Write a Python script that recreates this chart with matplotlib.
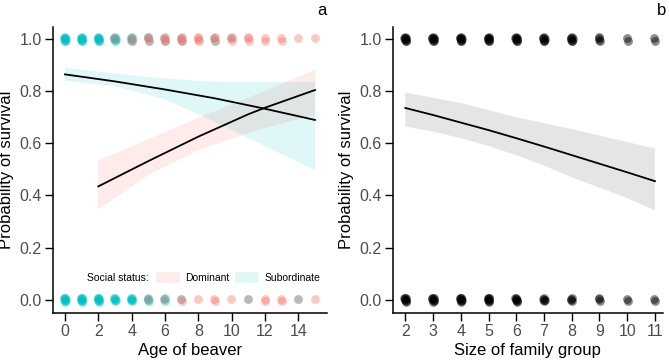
import matplotlib.pyplot as plt
import numpy as np
from matplotlib.patches import Patch

plt.rcParams["font.family"] = ["Liberation Sans", "DejaVu Sans"]

RED = "#F8766D"
CYAN = "#00BFC4"
TICK_GREY = "#4D4D4D"

# panel a: age of beaver, points per age (survived = 1, died = 0)
ages = np.arange(16)
sub_alive = [8, 8, 8, 6, 5, 3, 2, 2, 0, 2, 1, 0, 0, 0, 0, 0]
dom_alive = [0, 0, 0, 1, 2, 3, 4, 4, 4, 3, 3, 3, 2, 2, 1, 1]
sub_dead = [8, 8, 8, 6, 6, 4, 3, 1, 0, 0, 0, 1, 0, 0, 1, 0]
dom_dead = [0, 0, 0, 0, 0, 1, 1, 2, 1, 2, 1, 1, 2, 2, 1, 1]

# fitted curves, panel a
sub_x = [0, 3, 6, 9, 12, 15]
sub_fit = [0.865, 0.838, 0.807, 0.773, 0.733, 0.690]
sub_lo = [0.841, 0.820, 0.770, 0.683, 0.590, 0.498]
sub_hi = [0.890, 0.868, 0.848, 0.836, 0.835, 0.835]

dom_x = [2, 5, 8, 11, 12, 15]
dom_fit = [0.435, 0.532, 0.626, 0.712, 0.737, 0.805]
dom_lo = [0.348, 0.480, 0.575, 0.640, 0.660, 0.710]
dom_hi = [0.533, 0.615, 0.697, 0.775, 0.800, 0.881]

# panel b: size of family group
sizes = np.arange(2, 12)
n_alive = [8, 8, 8, 8, 8, 7, 7, 4, 2, 2]
n_dead = [8, 8, 8, 8, 7, 5, 4, 3, 2, 2]
size_fit = [0.736, 0.709, 0.680, 0.651, 0.620, 0.588, 0.555, 0.522, 0.489, 0.455]
size_lo = [0.665, 0.645, 0.620, 0.590, 0.555, 0.515, 0.470, 0.430, 0.390, 0.342]
size_hi = [0.796, 0.775, 0.755, 0.728, 0.700, 0.678, 0.655, 0.630, 0.605, 0.580]

# fixed jitter pattern for overlapping points
JIT_X = np.array([-0.6, 0.5, 0.0, -0.3, 0.8, -0.9, 0.3, 0.6])
JIT_Y = np.array([0.4, -0.8, 1.0, -0.3, 0.0, 0.7, -1.0, 0.8])


def jittered(ax, xs, counts, yval, color, jx, jy, alpha):
    for x, n in zip(xs, counts):
        if n == 0:
            continue
        px = x + JIT_X[:n] * jx
        py = yval + JIT_Y[:n] * jy
        ax.scatter(px, py, s=40, color=color, alpha=alpha, linewidths=0, zorder=3)


def style(ax):
    for s in ["top", "right"]:
        ax.spines[s].set_visible(False)
    for s in ["left", "bottom"]:
        ax.spines[s].set_linewidth(1.1)
    ax.tick_params(length=6, width=1.0, pad=2, labelsize=11.5, labelcolor=TICK_GREY)
    ax.set_ylim(-0.05, 1.048)
    ax.set_yticks([0, 0.2, 0.4, 0.6, 0.8, 1.0])
    ax.set_yticklabels(["0.0", "0.2", "0.4", "0.6", "0.8", "1.0"])
    ax.set_ylabel("Probability of survival", fontsize=12, labelpad=4)


fig = plt.figure(figsize=(6.69, 3.6), dpi=100)
ax1 = fig.add_axes([0.0792, 0.1314, 0.4091, 0.7944])
ax2 = fig.add_axes([0.587, 0.1314, 0.404, 0.7944])

# panel a
ax1.fill_between(dom_x, dom_lo, dom_hi, facecolor=RED, alpha=0.14,
                 edgecolor="#BBBBBB", linestyle=":", linewidth=0.6)
ax1.fill_between(sub_x, sub_lo, sub_hi, facecolor=CYAN, alpha=0.12,
                 edgecolor="#BBBBBB", linestyle=":", linewidth=0.6)
ax1.plot(sub_x, sub_fit, color="black", lw=1.3)
ax1.plot(dom_x, dom_fit, color="black", lw=1.3)
jittered(ax1, ages, sub_alive, 1.0, CYAN, 0.05, 0.008, 0.4)
jittered(ax1, ages, dom_alive, 1.0, RED, 0.05, 0.008, 0.4)
jittered(ax1, ages, sub_dead, 0.0, CYAN, 0.05, 0.008, 0.4)
jittered(ax1, ages, dom_dead, 0.0, RED, 0.05, 0.008, 0.4)
style(ax1)
ax1.set_xlim(-0.72, 15.7)
ax1.set_xticks(range(0, 16, 2))
ax1.set_xlabel("Age of beaver", fontsize=12, labelpad=3)

ax1.text(0.124, 0.123, "Social status:", transform=ax1.transAxes,
         fontsize=7.5, va="center", ha="left")
handles = [
    Patch(facecolor=RED, alpha=0.14, edgecolor="#999999", linestyle=":", linewidth=0.6),
    Patch(facecolor=CYAN, alpha=0.12, edgecolor="#999999", linestyle=":", linewidth=0.6),
]
ax1.legend(handles, ["Dominant", "Subordinate"], ncol=2, frameon=False,
           loc="center left", bbox_to_anchor=(0.376, 0.123), borderaxespad=0,
           borderpad=0, fontsize=7.5, handlelength=2.2, handleheight=1.0,
           handletextpad=0.58, columnspacing=0.58)

# panel b
ax2.fill_between(sizes, size_lo, size_hi, facecolor="grey", alpha=0.2, linewidth=0)
ax2.plot(sizes, size_fit, color="black", lw=1.3)
jittered(ax2, sizes, n_alive, 1.0, "black", 0.035, 0.008, 0.45)
jittered(ax2, sizes, n_dead, 0.0, "black", 0.035, 0.008, 0.45)
style(ax2)
ax2.set_xlim(1.545, 11.29)
ax2.set_xticks(sizes)
ax2.set_xlabel("Size of family group", fontsize=12, labelpad=3)

fig.text(0.481, 0.972, "a", fontsize=12, ha="center", va="center")
fig.text(0.989, 0.972, "b", fontsize=12, ha="center", va="center")

fig.savefig("out.png", dpi=100)
